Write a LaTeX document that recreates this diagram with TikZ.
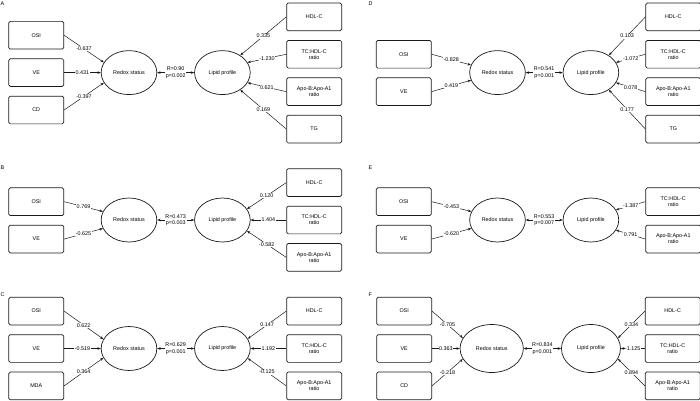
\documentclass[tikz,border=0pt]{standalone}
\usepackage{fontspec}
\setmainfont{Liberation Sans}
\usetikzlibrary{shapes.geometric, arrows.meta, positioning}
\definecolor{semLine}{HTML}{1A1A1A}

\begin{document}
\begin{tikzpicture}[x=1pt, y=-1pt,
  %% --- Node styles ---
  observed/.style={
    rectangle, rounded corners=1.5pt,
    minimum width=55pt, minimum height=27.7pt,
    inner sep=1pt, align=center,
    font=\fontsize{5.4}{6.2}\selectfont,
    draw=semLine, line width=0.7pt
  },
  latent/.style={
    ellipse, minimum width=55.7pt, minimum height=44pt,
    inner sep=0pt, font=\fontsize{5.4}{6.2}\selectfont,
    draw=semLine, line width=0.7pt
  },
  panel/.style={anchor=west, inner sep=0pt, font=\fontsize{5.4}{6}\selectfont},
  %% --- Arrow styles ---
  arrow/.style={-{Stealth[length=3.4pt, width=2.6pt]}, line width=0.5pt, draw=semLine},
  corr/.style={{Stealth[length=3.4pt, width=2.6pt]}-{Stealth[length=3.4pt, width=2.6pt]}, line width=0.5pt, draw=semLine},
  coef/.style={midway, fill=white, inner sep=0.6pt, font=\fontsize{5.4}{6}\selectfont},
  rstat/.style={midway, fill=white, inner sep=0.6pt, align=center, font=\fontsize{5.4}{6.6}\selectfont}
]
\useasboundingbox (0,0) rectangle (700,400);

%% =========================================================
%% PANEL A
%% =========================================================
\node (aLetter) [panel] at (0.5,4) {A};
\node (aRedox) [latent] at (129,72.6) {Redox status};
\node (aLipid) [latent, right=37pt of aRedox] {Lipid profile};
\node (aVE)  [observed, left=36.7pt of aRedox] {VE};
\node (aOSI) [observed, above=9pt of aVE] {OSI};
\node (aCD)  [observed, below=9pt of aVE] {CD};
\node (aTC)  [observed, right=35.7pt of aLipid, yshift=18.35pt] {TC:HDL-C\\ratio};
\node (aHDL) [observed, above=9pt of aTC] {HDL-C};
\node (aApo) [observed, below=9pt of aTC] {Apo-B:Apo-A1\\ratio};
\node (aTG)  [observed, below=9pt of aApo] {TG};

\draw[arrow] (aOSI.east) -- node[coef]{-0.637} (aRedox.158);
\draw[arrow] (aVE.east)  -- node[coef]{0.431} (aRedox.west);
\draw[arrow] (aCD.east)  -- node[coef]{-0.397} (aRedox.202);
\draw[corr]  (aRedox.east) -- node[rstat]{R=0.90\\p=0.002} (aLipid.west);
\draw[arrow] (aHDL.west) -- node[coef]{0.335} (aLipid.44);
\draw[arrow] (aTC.west)  -- node[coef]{-1.230} (aLipid.22);
\draw[arrow] (aApo.west) -- node[coef]{0.621} (aLipid.-22);
\draw[arrow] (aTG.west)  -- node[coef]{0.169} (aLipid.-44);

%% =========================================================
%% PANEL B
%% =========================================================
\node (bLetter) [panel] at (0.5,167.5) {B};
\node (bRedox) [latent] at (129,220) {Redox status};
\node (bLipid) [latent, right=37pt of bRedox] {Lipid profile};
\node (bOSI) [observed, left=36.7pt of bRedox, yshift=18.35pt] {OSI};
\node (bVE)  [observed, below=9pt of bOSI] {VE};
\node (bTC)  [observed, right=35.7pt of bLipid] {TC:HDL-C\\ratio};
\node (bHDL) [observed, above=9pt of bTC] {HDL-C};
\node (bApo) [observed, below=9pt of bTC] {Apo-B:Apo-A1\\ratio};

\draw[arrow] (bOSI.east) -- node[coef]{0.769} (bRedox.162);
\draw[arrow] (bVE.east)  -- node[coef]{-0.625} (bRedox.198);
\draw[corr]  (bRedox.east) -- node[rstat]{R=0.473\\p=0.003} (bLipid.west);
\draw[arrow] (bHDL.west) -- node[coef]{0.120} (bLipid.24);
\draw[arrow] (bTC.west)  -- node[coef]{1.404} (bLipid.east);
\draw[arrow] (bApo.west) -- node[coef]{-0.582} (bLipid.-24);

%% =========================================================
%% PANEL C
%% =========================================================
\node (cLetter) [panel] at (0.5,295) {C};
\node (cRedox) [latent] at (129,348.5) {Redox status};
\node (cLipid) [latent, right=37pt of cRedox] {Lipid profile};
\node (cVE)  [observed, left=36.7pt of cRedox] {VE};
\node (cOSI) [observed, above=9pt of cVE] {OSI};
\node (cMDA) [observed, below=9pt of cVE] {MDA};
\node (cTC)  [observed, right=35.7pt of cLipid] {TC:HDL-C\\ratio};
\node (cHDL) [observed, above=9pt of cTC] {HDL-C};
\node (cApo) [observed, below=9pt of cTC] {Apo-B:Apo-A1\\ratio};

\draw[arrow] (cOSI.east) -- node[coef]{0.622} (cRedox.160);
\draw[arrow] (cVE.east)  -- node[coef]{-0.519} (cRedox.west);
\draw[arrow] (cMDA.east) -- node[coef]{0.364} (cRedox.200);
\draw[corr]  (cRedox.east) -- node[rstat]{R=0.629\\p=0.001} (cLipid.west);
\draw[arrow] (cHDL.west) -- node[coef]{0.147} (cLipid.21);
\draw[arrow] (cTC.west)  -- node[coef]{1.192} (cLipid.east);
\draw[arrow] (cApo.west) -- node[coef]{-0.125} (cLipid.-21);

%% =========================================================
%% PANEL D
%% =========================================================
\node (dLetter) [panel] at (368.5,4) {D};
\node (dRedox) [latent] at (497.5,72.6) {Redox status};
\node (dLipid) [latent, right=37pt of dRedox] {Lipid profile};
\node (dOSI) [observed, left=37.7pt of dRedox, yshift=18.35pt] {OSI};
\node (dVE)  [observed, below=9pt of dOSI] {VE};
\node (dTC)  [observed, right=26.3pt of dLipid, yshift=18.35pt] {TC:HDL-C\\ratio};
\node (dHDL) [observed, above=9pt of dTC] {HDL-C};
\node (dApo) [observed, below=9pt of dTC] {Apo-B:Apo-A1\\ratio};
\node (dTG)  [observed, below=9pt of dApo] {TG};

\draw[arrow] (dOSI.east) -- node[coef]{-0.828} (dRedox.164);
\draw[arrow] (dVE.east)  -- node[coef]{0.419} (dRedox.196);
\draw[corr]  (dRedox.east) -- node[rstat]{R=0.541\\p=0.001} (dLipid.west);
\draw[arrow] (dHDL.west) -- node[coef]{0.103} (dLipid.44);
\draw[arrow] (dTC.west)  -- node[coef]{-1.072} (dLipid.22);
\draw[arrow] (dApo.west) -- node[coef]{0.078} (dLipid.-22);
\draw[arrow] (dTG.west)  -- node[coef]{0.177} (dLipid.-44);

%% =========================================================
%% PANEL E
%% =========================================================
\node (eLetter) [panel] at (368.5,167.5) {E};
\node (eRedox) [latent] at (497.5,220) {Redox status};
\node (eLipid) [latent, right=37pt of eRedox] {Lipid profile};
\node (eOSI) [observed, left=37.7pt of eRedox, yshift=18.35pt] {OSI};
\node (eVE)  [observed, below=9pt of eOSI] {VE};
\node (eTC)  [observed, right=26.3pt of eLipid, yshift=18.35pt] {TC:HDL-C\\ratio};
\node (eApo) [observed, below=9pt of eTC] {Apo-B:Apo-A1\\ratio};

\draw[arrow] (eOSI.east) -- node[coef]{-0.453} (eRedox.162);
\draw[arrow] (eVE.east)  -- node[coef]{-0.620} (eRedox.198);
\draw[corr]  (eRedox.east) -- node[rstat]{R=0.553\\p=0.007} (eLipid.west);
\draw[arrow] (eTC.west)  -- node[coef]{-1.387} (eLipid.22);
\draw[arrow] (eApo.west) -- node[coef]{0.791} (eLipid.-22);

%% =========================================================
%% PANEL F
%% =========================================================
\node (fLetter) [panel] at (368.5,295) {F};
\node (fRedox) [latent, minimum width=63.3pt, minimum height=48pt] at (491.7,348.5) {Redox status};
\node (fLipid) [latent, minimum width=59pt, minimum height=48pt, right=37.4pt of fRedox] {Lipid profile};
\node (fVE)  [observed, left=27.7pt of fRedox] {VE};
\node (fOSI) [observed, above=9pt of fVE] {OSI};
\node (fCD)  [observed, below=9pt of fVE] {CD};
\node (fTC)  [observed, right=24pt of fLipid] {TC:HDL-C\\ratio};
\node (fHDL) [observed, above=9pt of fTC] {HDL-C};
\node (fApo) [observed, below=9pt of fTC] {Apo-B:Apo-A1\\ratio};

\draw[arrow] (fOSI.east) -- node[coef]{-0.705} (fRedox.160);
\draw[arrow] (fVE.east)  -- node[coef]{0.363} (fRedox.west);
\draw[arrow] (fCD.east)  -- node[coef]{-0.218} (fRedox.200);
\draw[corr]  (fRedox.east) -- node[rstat]{R=0.834\\p=0.001} (fLipid.west);
\draw[arrow] (fHDL.west) -- node[coef]{0.334} (fLipid.21);
\draw[arrow] (fTC.west)  -- node[coef]{-1.125} (fLipid.east);
\draw[arrow] (fApo.west) -- node[coef]{0.894} (fLipid.-21);

\end{tikzpicture}
\end{document}
